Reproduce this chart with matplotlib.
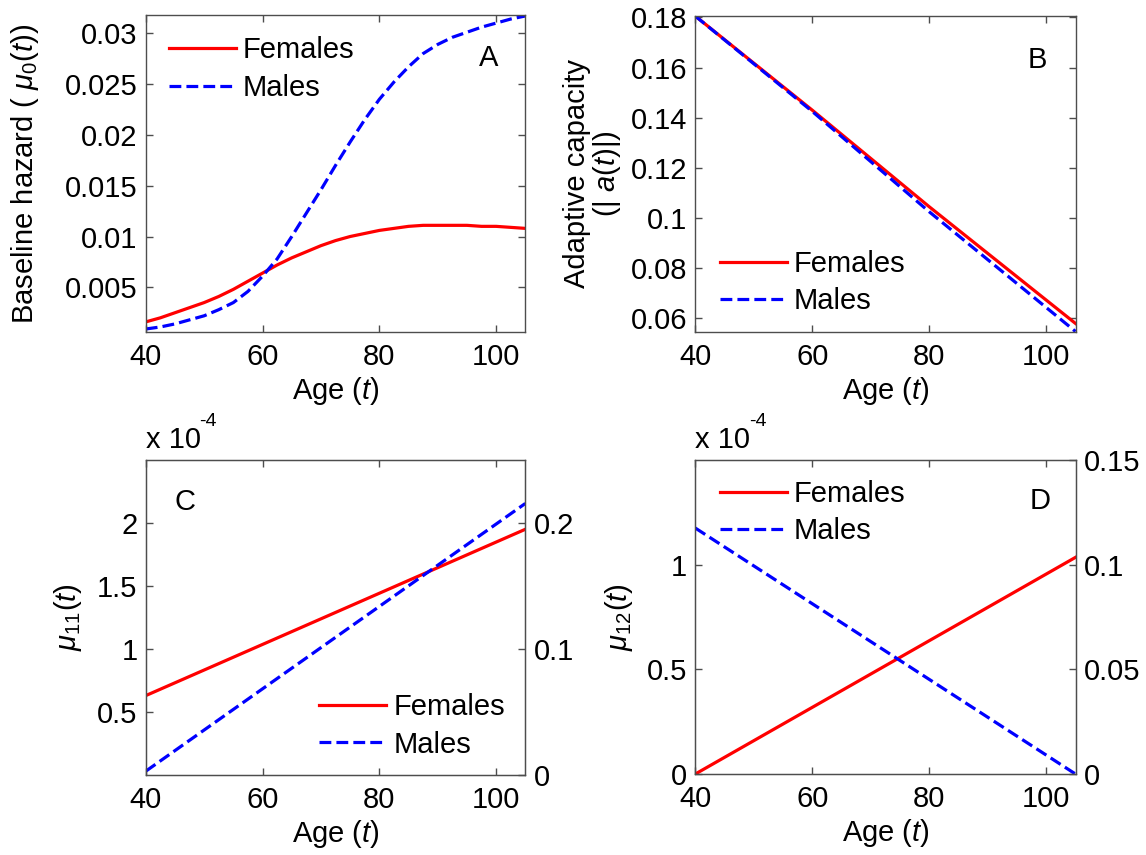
import numpy as np
import matplotlib as mpl
mpl.use('Agg')
import matplotlib.pyplot as plt


FONT_SIZE = 21
mpl.rc('font', family='Liberation Sans', size=FONT_SIZE)
mpl.rc('mathtext', fontset='custom', rm='Liberation Sans',
       it='Liberation Sans:italic', bf='Liberation Sans:bold')

## Panel A: baseline hazard
ages_a = [40, 42.5, 45, 47.5, 50, 52.5, 55, 57.5, 60, 62.5, 65, 67.5, 70,
          72.5, 75, 77.5, 80, 82.5, 85, 87.5, 90, 92.5, 95, 97.5, 100,
          102.5, 105]
hazard_females = [0.0016, 0.0020, 0.0025, 0.0030, 0.0035, 0.0041, 0.0048,
                  0.0056, 0.0064, 0.0072, 0.0079, 0.0085, 0.0091, 0.0096,
                  0.0100, 0.0103, 0.0106, 0.0108, 0.0110, 0.0111, 0.0111,
                  0.0111, 0.0111, 0.0110, 0.0110, 0.0109, 0.0108]
hazard_males = [0.0009, 0.0011, 0.0014, 0.0018, 0.0022, 0.0028, 0.0035,
                0.0046, 0.0061, 0.0078, 0.0100, 0.0123, 0.0146, 0.0170,
                0.0193, 0.0215, 0.0235, 0.0252, 0.0267, 0.0280, 0.0289,
                0.0296, 0.0301, 0.0306, 0.0310, 0.0314, 0.0317]

## Panel B: adaptive capacity
ages_b = [40, 60, 80, 105]
capacity_females = [0.1805, 0.1430, 0.1045, 0.0580]
capacity_males = [0.1805, 0.1425, 0.1025, 0.0548]

## Panel C: mu_11 (x 1e-4)
ages_c = [40, 105]
mu11_females = [0.63, 1.95]
mu11_males = [0.03, 2.155]

## Panel D: mu_12 (x 1e-4)
ages_d = [40, 105]
mu12_females = [0.0, 1.035]
mu12_males = [1.175, 0.0]

RED = '#ff0000'
BLUE = '#0000ff'
BOX = '0.3'


def style_axis(ax, right=True):
    for sp in ax.spines.values():
        sp.set_color(BOX)
        sp.set_linewidth(1.0)
    ax.tick_params(direction='in', length=5, width=1, color=BOX,
                   top=True, right=right, labelsize=FONT_SIZE, pad=6)
    ax.tick_params(axis='x', pad=8)
    ax.set_xlim(40, 105)
    ax.set_xticks([40, 60, 80, 100])
    ax.set_xlabel(r'Age ($t$)', labelpad=3)


def add_lines(ax, x, yf, ym):
    ax.plot(x, yf, color=RED, lw=2.3, label='Females')
    ax.plot(x, ym, color=BLUE, lw=2.3, ls='--', label='Males')


def add_legend(ax, anchor):
    ax.legend(loc='center left', bbox_to_anchor=anchor, frameon=False,
              handlelength=2.3, handletextpad=0.25, labelspacing=0.32,
              borderaxespad=0, borderpad=0)


def add_exponent(ax):
    ax.annotate('x 10', xy=(0, 1), xycoords='axes fraction',
                xytext=(0, 8.4), textcoords='offset points',
                ha='left', va='baseline')
    ax.annotate('-4', xy=(0, 1), xycoords='axes fraction',
                xytext=(38.5, 21.6), textcoords='offset points',
                ha='left', va='bottom', fontsize=14)


def add_right_axis(ax, top, ticks, labels):
    ax2 = ax.twinx()
    ax2.set_ylim(0, top)
    ax2.set_yticks(ticks)
    ax2.set_yticklabels(labels)
    ax2.tick_params(direction='in', length=5, width=1, color=BOX,
                    labelsize=FONT_SIZE, pad=6)
    for sp in ax2.spines.values():
        sp.set_color(BOX)
    return ax2


def main():
    fig = plt.figure(figsize=(11.46, 8.55), dpi=100)

    ax_a = fig.add_axes([0.1272, 0.612, 0.3312, 0.3705])
    ax_b = fig.add_axes([0.6067, 0.612, 0.3318, 0.3692])
    ax_c = fig.add_axes([0.1272, 0.0936, 0.3312, 0.3684])
    ax_d = fig.add_axes([0.6067, 0.0947, 0.3318, 0.3673])

    # A
    add_lines(ax_a, ages_a, hazard_females, hazard_males)
    style_axis(ax_a)
    ax_a.set_ylim(0.00063, 0.0318)
    ax_a.set_yticks([0.005, 0.01, 0.015, 0.02, 0.025, 0.03])
    ax_a.set_yticklabels(['0.005', '0.01', '0.015', '0.02', '0.025', '0.03'])
    ax_a.set_ylabel(r'Baseline hazard ( $\mu_0(t)$)')
    ax_a.yaxis.set_label_coords(-0.275, 0.5)
    add_legend(ax_a, (0.06, 0.829))
    ax_a.text(0.904, 0.863, 'A', transform=ax_a.transAxes, ha='center', va='center')

    # B
    add_lines(ax_b, ages_b, capacity_females, capacity_males)
    style_axis(ax_b)
    ax_b.set_ylim(0.0547, 0.1805)
    ax_b.set_yticks([0.06, 0.08, 0.1, 0.12, 0.14, 0.16, 0.18])
    ax_b.set_yticklabels(['0.06', '0.08', '0.1', '0.12', '0.14', '0.16', '0.18'])
    ax_b.set_ylabel('Adaptive capacity\n' + r'(| $a(t)$|)', linespacing=1.0)
    ax_b.yaxis.set_label_coords(-0.19, 0.5)
    add_legend(ax_b, (0.064, 0.156))
    ax_b.text(0.90, 0.861, 'B', transform=ax_b.transAxes, ha='center', va='center')

    # C
    add_lines(ax_c, ages_c, mu11_females, mu11_males)
    style_axis(ax_c, right=False)
    ax_c.set_ylim(0, 2.5)
    ax_c.set_yticks([0.5, 1, 1.5, 2])
    ax_c.set_yticklabels(['0.5', '1', '1.5', '2'])
    ax_c.set_ylabel(r'$\mu_{11}(t)$')
    ax_c.yaxis.set_label_coords(-0.162, 0.5)
    add_legend(ax_c, (0.456, 0.156))
    ax_c.text(0.103, 0.868, 'C', transform=ax_c.transAxes, ha='center', va='center')
    add_exponent(ax_c)
    add_right_axis(ax_c, 0.25, [0, 0.1, 0.2], ['0', '0.1', '0.2'])

    # D
    add_lines(ax_d, ages_d, mu12_females, mu12_males)
    style_axis(ax_d, right=False)
    ax_d.set_ylim(0, 1.5)
    ax_d.set_yticks([0, 0.5, 1])
    ax_d.set_yticklabels(['0', '0.5', '1'])
    ax_d.set_ylabel(r'$\mu_{12}(t)$')
    ax_d.yaxis.set_label_coords(-0.158, 0.5)
    add_legend(ax_d, (0.064, 0.832))
    ax_d.text(0.906, 0.868, 'D', transform=ax_d.transAxes, ha='center', va='center')
    add_exponent(ax_d)
    add_right_axis(ax_d, 0.15, [0, 0.05, 0.1, 0.15], ['0', '0.05', '0.1', '0.15'])

    fig.savefig('out.png', dpi=100, facecolor='white')


if __name__ == '__main__':
    main()
